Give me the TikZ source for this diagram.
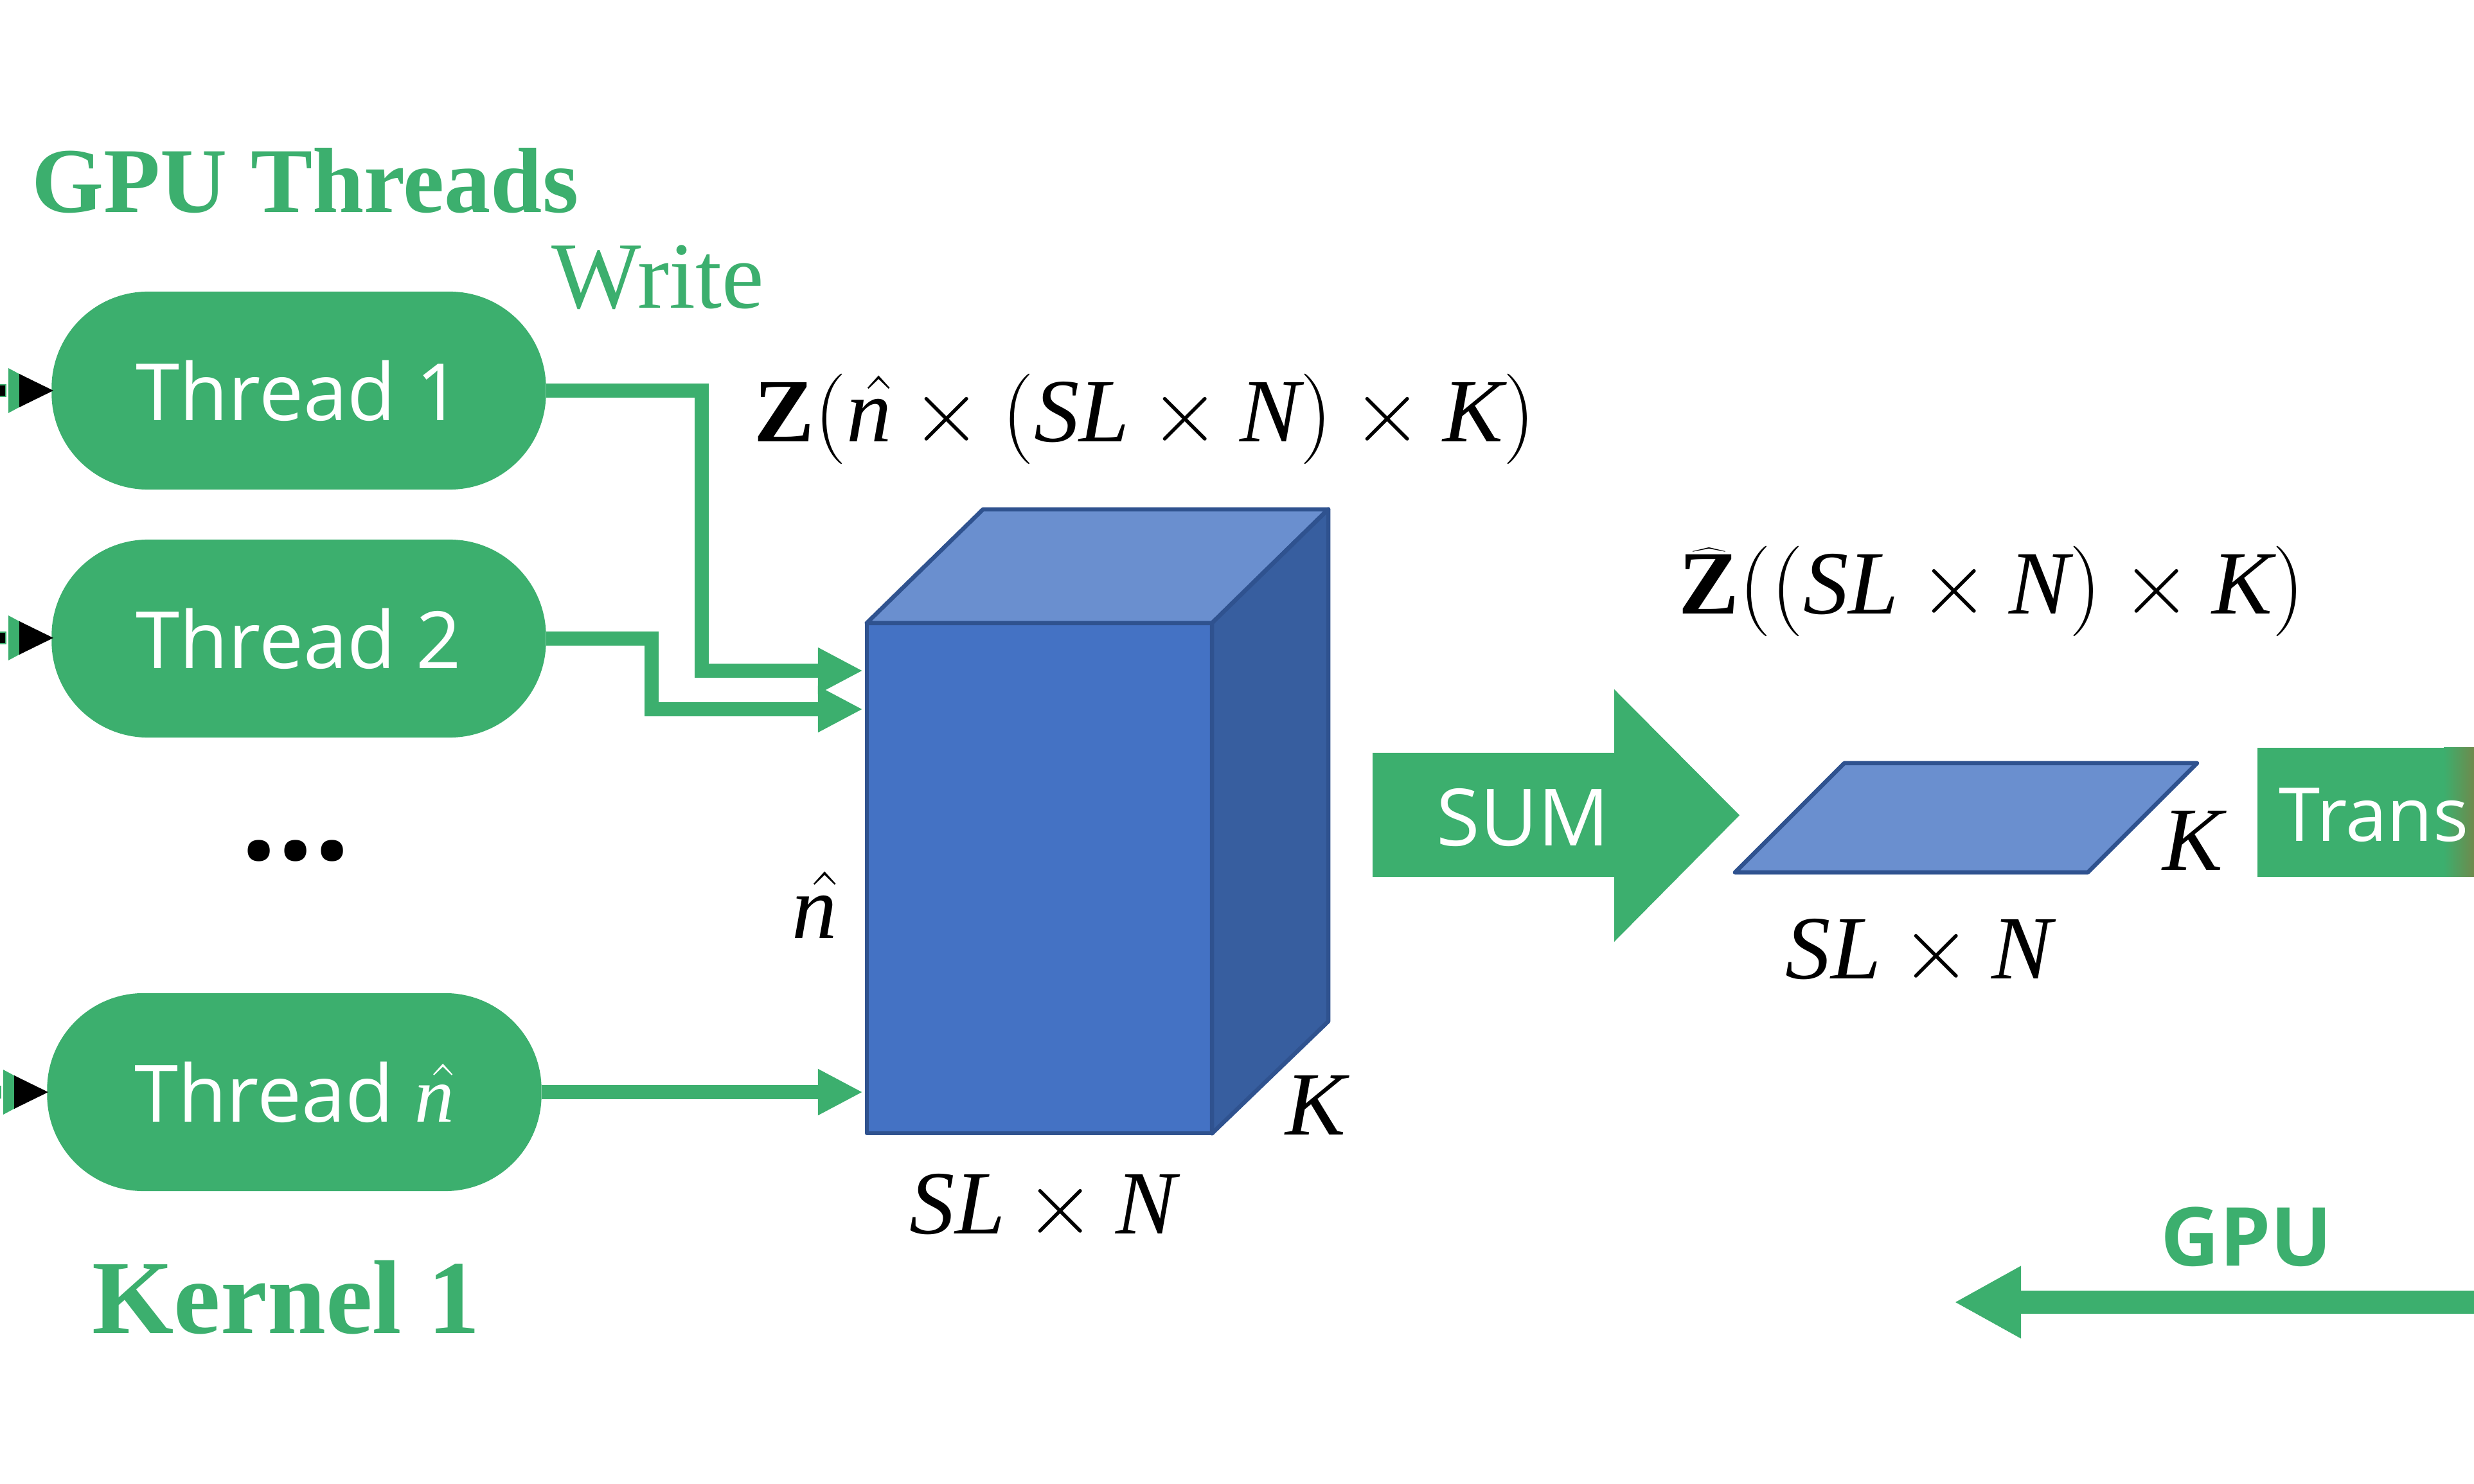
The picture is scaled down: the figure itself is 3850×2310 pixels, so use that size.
\RequirePackage{fix-cm}
\documentclass[tikz,border=0pt]{standalone}
\usepackage[no-math]{fontspec}
\setmainfont{Liberation Serif}
\newfontfamily\sansf{Open Sans}
\DeclareSymbolFont{letters}{TU}{\rmdefault}{m}{it}
\newcommand{\bZ}{\mbox{\bfseries Z}}
\newcommand{\nhat}{\skew{4}{\hat}{n}}
\usetikzlibrary{arrows.meta}
\definecolor{gpugreen}{HTML}{3CAF6E}
\definecolor{transolive}{HTML}{6E8A4C}
\definecolor{cubefront}{HTML}{4472C4}
\definecolor{cubetop}{HTML}{6A8FCF}
\definecolor{cubeside}{HTML}{375E9F}
\definecolor{cubeedge}{HTML}{2F528F}
\tikzset{
  thread/.style={fill=gpugreen, text=white, rounded corners=1.5cm, minimum width=7.69cm,
    minimum height=3.08cm, inner sep=0pt, outer sep=0pt, text height=0.92cm, text depth=0cm,
    font=\sansf\fontsize{35}{40}\selectfont},
  lbl/.style={inner sep=0pt, anchor=base west},
  mathfont/.style={inner sep=0pt, font=\fontsize{40}{46}\selectfont},
  wline/.style={draw=gpugreen, line width=0.22cm, shorten >=0.06cm,
    -{Triangle[length=0.7cm,width=0.67cm]}},
  face/.style={draw=cubeedge, line width=0.065cm, line join=round},
  inarrow/.pic={
    \fill[gpugreen] (13,-35) -- (13,35) -- (78,0) -- cycle;
    \fill[black] (30,-26) -- (30,26) -- (83,0) -- cycle;
    \filldraw[fill=black, draw=gpugreen, line width=0.02cm] (-10,-9) rectangle (9,9);
  }
}
\begin{document}
\begin{tikzpicture}[x=0.01cm,y=-0.01cm]
\useasboundingbox (0,0) rectangle (3850,2310);

% titles
\node[lbl, text=gpugreen, font=\fontsize{41}{48}\selectfont\bfseries] (title) at (49,331) {GPU Threads};
\node[lbl, text=gpugreen, font=\fontsize{42}{48}\selectfont] (write) at (858,480) {Write};
\node[lbl, text=gpugreen, font=\fontsize{46.5}{54}\selectfont\bfseries] (kernel) at (143,2075) {Kernel 1};
\node[lbl, text=gpugreen, font=\sansf\bfseries\fontsize{36}{42}\selectfont] (gpu) at (3362,1970) {GPU};

% threads
\node[thread] (t1) at (465,608) {Thread 1};
\node[thread] (t2) at (465,994) {Thread 2};
\node[thread] (tn) at (458,1700) {Thread $\nhat$};
\node[anchor=base, inner sep=0pt, font=\sansf\bfseries\fontsize{57}{60}\selectfont] (dots) at (460,1339) {...};

% incoming arrow stubs
\pic at (0,608) {inarrow};
\pic at (0,993) {inarrow};
\pic at (-8,1700) {inarrow};

% cube
\node[face, fill=cubefront, minimum width=5.37cm, minimum height=7.94cm, inner sep=0pt, outer sep=0pt] (cube) at (1617.5,1367) {};
\filldraw[face, fill=cubetop] (cube.north west) -- ++(181,-177) -- ++(537,0) -- (cube.north east) -- cycle;
\filldraw[face, fill=cubeside] (cube.north east) -- ++(181,-177) -- ++(0,797) -- (cube.south east) -- cycle;

% write connectors
\draw[wline] (t1.east) -- ++(242,0) |- (cube.west |- 0,1044);
\draw[wline] (t2.east) -- ++(164,0) |- (cube.west |- 0,1104);
\draw[wline] (tn.east) -- (cube.west |- tn.east);

% math labels
\node[lbl, mathfont] (zlab) at (1173,688) {$\bZ(\nhat\times(SL\times N)\times K)$};
\node[mathfont, anchor=base] (nlab) at (1268,1460) {$\nhat$};
\node[lbl, mathfont] (k1) at (2000,1766) {$K$};
\node[lbl, mathfont] (sl1) at (1415,1920) {$SL\times N$};

% SUM arrow
\fill[gpugreen] (2136,1172) -- (2512,1172) -- (2512,1073) -- (2707,1269) -- (2512,1466) -- (2512,1365) -- (2136,1365) -- cycle;
\node[anchor=base, inner sep=0pt, text=white, font=\sansf\fontsize{35}{40}\selectfont] (sum) at (2370,1317) {SUM};

% reduced slice
\filldraw[face, fill=cubetop] (2700,1358) -- (2870,1188) -- (3419,1188) -- (3249,1358) -- cycle;
\node[lbl, mathfont] (zhat) at (2612,956) {$\widehat{\bZ}((SL\times N)\times K)$};
\node[lbl, mathfont] (k2) at (3365,1354) {$K$};
\node[lbl, mathfont] (sl2) at (2778,1524) {$SL\times N$};

% Trans box
\fill[gpugreen] (3513,1164) rectangle (3805,1365);
\shade[left color=gpugreen, right color=transolive] (3803,1164) rectangle (3850,1365);
\node[lbl, text=white, font=\sansf\fontsize{33}{40}\selectfont] (trans) at (3546,1310) {Trans};

% GPU arrow
\coordinate (gpuR) at (3850,2027);
\coordinate (gpuL) at (3041,2027);
\draw[gpugreen, line width=0.36cm, -{Triangle[length=1.04cm,width=1.05cm]}] (gpuR) -- (gpuL);
\end{tikzpicture}
\end{document}
